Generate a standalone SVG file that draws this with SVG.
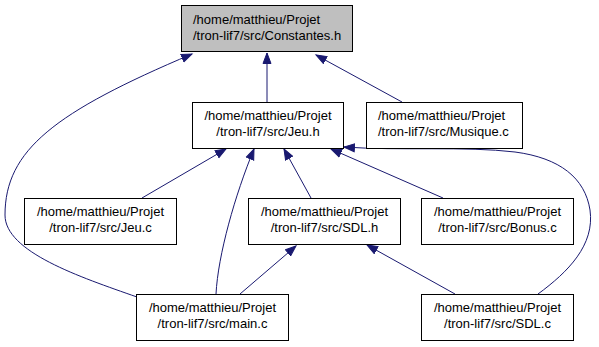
<svg xmlns="http://www.w3.org/2000/svg" width="599" height="347" viewBox="0 0 599 347">
  <style>
    .node rect { fill: #ffffff; stroke: #000000; stroke-width: 1; }
    .node.current rect { fill: #bfbfbf; }
    .node text { font-family: "Liberation Sans", Arial, Helvetica, sans-serif; font-size: 13px; fill: #000000; text-anchor: middle; }
    .node text.left { text-anchor: start; }
    .edges path { fill: none; stroke: #191970; stroke-width: 1; marker-end: url(#arrow); }
  </style>
  <defs>
    <marker id="arrow" markerUnits="userSpaceOnUse" markerWidth="13" markerHeight="11" refX="11" refY="5" orient="auto">
      <path d="M0.5,1 L11,5 L0.5,9 Z" fill="#191970" stroke="#191970" stroke-width="1"/>
    </marker>
  </defs>
  <rect x="0" y="0" width="599" height="347" fill="#ffffff"/>

  <!-- include relations: arrows point at the included file -->
  <g class="edges" id="edges">
    <path d="M267,102 L267,53"/>
    <path d="M402,102 L316,55"/>
    <path d="M137,297 C80,277 5,252 5,215 C5,150 55,112 192,54"/>
    <path d="M142,198 L226,149"/>
    <path d="M216,294 C218,255 235,195 254,149"/>
    <path d="M311,198 L284,149"/>
    <path d="M443,198 L331,149"/>
    <path d="M538,294 C568,272 595,245 590,210 C585,178 560,158 515,152 C465,146 400,151 344,147"/>
    <path d="M240,294 L296,246"/>
    <path d="M455,294 L367,245"/>
  </g>

  <g class="node current" id="constantes_h">
    <rect x="181.5" y="5.5" width="171" height="46"/>
    <text class="left" x="193" y="24">/home/matthieu/Projet</text>
    <text class="left" x="193" y="40">/tron-lif7/src/Constantes.h</text>
  </g>

  <g class="node" id="jeu_h">
    <rect x="192.5" y="102.5" width="151" height="46"/>
    <text x="268" y="120">/home/matthieu/Projet</text>
    <text x="268" y="136">/tron-lif7/src/Jeu.h</text>
  </g>

  <g class="node" id="musique_c">
    <rect x="366.5" y="102.5" width="156" height="46"/>
    <text class="left" x="378" y="120">/home/matthieu/Projet</text>
    <text class="left" x="378" y="136">/tron-lif7/src/Musique.c</text>
  </g>

  <g class="node" id="jeu_c">
    <rect x="24.5" y="198.5" width="152" height="46"/>
    <text x="100.5" y="216">/home/matthieu/Projet</text>
    <text x="100.5" y="232">/tron-lif7/src/Jeu.c</text>
  </g>

  <g class="node" id="sdl_h">
    <rect x="248.5" y="198.5" width="152" height="46"/>
    <text x="324.5" y="216">/home/matthieu/Projet</text>
    <text x="324.5" y="232">/tron-lif7/src/SDL.h</text>
  </g>

  <g class="node" id="bonus_c">
    <rect x="421.5" y="198.5" width="152" height="46"/>
    <text x="497.5" y="216">/home/matthieu/Projet</text>
    <text x="497.5" y="232">/tron-lif7/src/Bonus.c</text>
  </g>

  <g class="node" id="main_c">
    <rect x="136.5" y="294.5" width="152" height="46"/>
    <text x="212.5" y="312">/home/matthieu/Projet</text>
    <text x="212.5" y="328">/tron-lif7/src/main.c</text>
  </g>

  <g class="node" id="sdl_c">
    <rect x="421.5" y="294.5" width="152" height="46"/>
    <text x="497.5" y="312">/home/matthieu/Projet</text>
    <text x="497.5" y="328">/tron-lif7/src/SDL.c</text>
  </g>
</svg>
